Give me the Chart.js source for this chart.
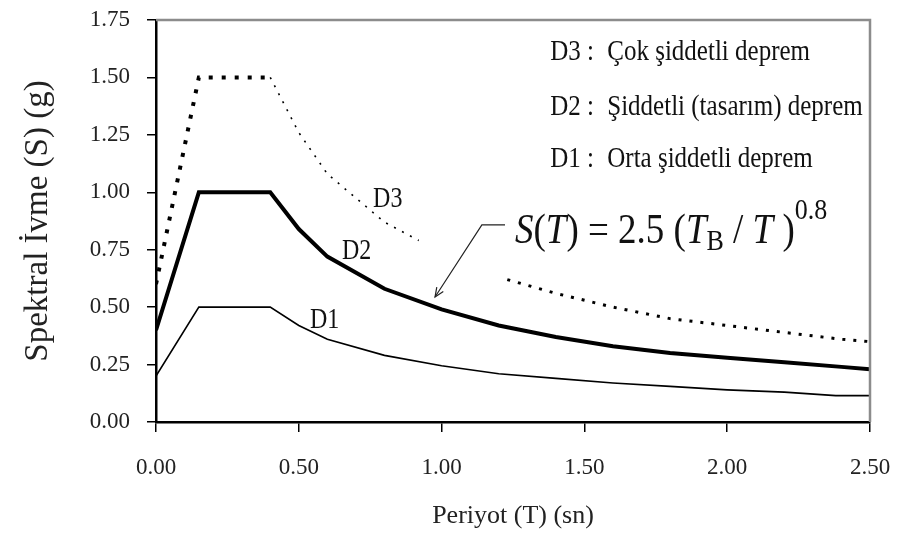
<!DOCTYPE html>
<html>
<head>
<meta charset="utf-8">
<script src="https://cdn.jsdelivr.net/npm/chart.js@4/dist/chart.umd.min.js"></script>
<style>
  html, body { margin: 0; padding: 0; background: #fff; }
  #c { display: block; }
</style>
</head>
<body>
<canvas id="c" width="901" height="540"></canvas>
<script>
// ---- data ----
const periodsD3 = [0.00, 0.15, 0.40, 0.50, 0.60, 0.80, 0.92, null, 1.23, 1.40, 1.60, 1.80, 2.00, 2.20, 2.40, 2.50];
const valuesD3  = [0.60, 1.50, 1.50, 1.26, 1.08, 0.87, 0.79, null, 0.62, 0.56, 0.50, 0.45, 0.42, 0.39, 0.36, 0.35];

const periodsD2 = [0.00, 0.15, 0.40, 0.50, 0.60, 0.80, 1.00, 1.20, 1.40, 1.60, 1.80, 2.00, 2.20, 2.40, 2.50];
const valuesD2  = [0.40, 1.00, 1.00, 0.84, 0.72, 0.58, 0.49, 0.42, 0.37, 0.33, 0.30, 0.28, 0.26, 0.24, 0.23];

const periodsD1 = [0.00, 0.15, 0.40, 0.50, 0.60, 0.80, 1.00, 1.20, 1.40, 1.60, 1.80, 2.00, 2.20, 2.38, 2.50];
const valuesD1  = [0.20, 0.50, 0.50, 0.42, 0.36, 0.29, 0.245, 0.21, 0.19, 0.17, 0.155, 0.14, 0.13, 0.115, 0.115];

const xTicks = [0.00, 0.50, 1.00, 1.50, 2.00, 2.50];
const yTicks = [0.00, 0.25, 0.50, 0.75, 1.00, 1.25, 1.50, 1.75];

const legendLines = [
  ['D3 :', 'Çok şiddetli deprem'],
  ['D2 :', 'Şiddetli (tasarım) deprem'],
  ['D1 :', 'Orta şiddetli deprem']
];
const xTitle = 'Periyot (T) (sn)';
const yTitle = 'Spektral İvme (S) (g)';

// ---- build points ----
function pts(ts, vs) {
  return ts.map((t, i) => (t === null ? { x: null, y: null } : { x: t, y: vs[i] }));
}

const SERIF = '"Liberation Serif", "Times New Roman", serif';

// text drawn a little taller than wide, like the reference
function tallText(ctx, s, x, y, sy) {
  ctx.save();
  ctx.translate(x, y);
  ctx.scale(1, sy);
  ctx.fillText(s, 0, 0);
  ctx.restore();
}

const annotPlugin = {
  id: 'annot',
  afterDatasetsDraw(chart) {
    const { ctx, chartArea: a, scales: { x, y } } = chart;
    const px = v => x.getPixelForValue(v);
    const py = v => y.getPixelForValue(v);
    ctx.save();
    // top & right frame (grey)
    ctx.strokeStyle = '#8c8c8c';
    ctx.lineWidth = 2.5;
    ctx.beginPath();
    ctx.moveTo(a.left, a.top);
    ctx.lineTo(a.right, a.top);
    ctx.lineTo(a.right, a.bottom);
    ctx.stroke();

    ctx.fillStyle = '#111';
    ctx.textBaseline = 'alphabetic';
    ctx.textAlign = 'left';

    // curve labels
    ctx.font = '24px ' + SERIF;
    [['D3', 0.76, 0.935], ['D2', 0.651, 0.71], ['D1', 0.539, 0.409]].forEach(([t, tx, sy]) => {
      tallText(ctx, t, px(tx), py(sy), 1.2);
    });

    // legend text
    ctx.font = '25px ' + SERIF;
    const rows = [1.576, 1.336, 1.110];
    legendLines.forEach((l, i) => {
      tallText(ctx, l[0], px(1.38), py(rows[i]), 1.2);
      tallText(ctx, l[1], px(1.58), py(rows[i]), 1.2);
    });

    // formula
    let cx = px(1.257);
    const base = py(0.779);
    const big = 37, small = 26;
    const pieces = [
      ['S', 'italic', big, 0],
      ['(', '', big, 0],
      ['T', 'italic', big, 0],
      [') = 2.5 (', '', big, 0],
      ['T', 'italic', big, 0],
      ['B', '', small, 7],
      [' / ', '', big, 0],
      ['T', 'italic', big, 0],
      [' )', '', big, 0],
      ['0.8', '', small, -24]
    ];
    pieces.forEach(([s, st, sz, dy]) => {
      ctx.font = (st ? st + ' ' : '') + sz + 'px ' + SERIF;
      tallText(ctx, s, cx, base + dy, 1.12);
      cx += ctx.measureText(s).width;
    });

    // arrow
    const sx = px(1.222), sy = py(0.858);
    const mx = px(1.141);
    const tx = px(0.977), ty = py(0.544);
    ctx.strokeStyle = '#222';
    ctx.lineWidth = 1.2;
    ctx.beginPath();
    ctx.moveTo(sx, sy);
    ctx.lineTo(mx, sy);
    ctx.lineTo(tx, ty);
    ctx.stroke();
    const ang = Math.atan2(ty - sy, tx - mx);
    const hl = 10;
    ctx.beginPath();
    ctx.moveTo(tx - hl * Math.cos(ang - 0.4), ty - hl * Math.sin(ang - 0.4));
    ctx.lineTo(tx, ty);
    ctx.lineTo(tx - hl * Math.cos(ang + 0.4), ty - hl * Math.sin(ang + 0.4));
    ctx.stroke();
    ctx.restore();
  }
};

new Chart(document.getElementById('c'), {
  type: 'line',
  data: {
    datasets: [
      {
        label: 'D3',
        data: pts(periodsD3, valuesD3),
        borderColor: '#000',
        borderWidth: 3.5,
        borderDash: [4, 9],
        borderCapStyle: 'butt',
        spanGaps: false,
        pointRadius: 0,
        tension: 0,
        segment: {
          borderWidth: c => (c.p0.parsed.x >= 0.39 && c.p0.parsed.x < 1.0 ? 1.6 : (c.p0.parsed.x >= 1.0 ? 3 : 4)),
          borderDash: c => (c.p0.parsed.x >= 0.39 && c.p0.parsed.x < 1.0 ? [2, 7] : (c.p0.parsed.x >= 1.0 ? [3, 8] : [4, 9]))
        }
      },
      {
        label: 'D2',
        data: pts(periodsD2, valuesD2),
        borderColor: '#000',
        borderWidth: 4,
        pointRadius: 0,
        tension: 0
      },
      {
        label: 'D1',
        data: pts(periodsD1, valuesD1),
        borderColor: '#000',
        borderWidth: 1.6,
        pointRadius: 0,
        tension: 0
      }
    ]
  },
  options: {
    responsive: false,
    animation: false,
    parsing: true,
    layout: { padding: { left: 0, top: 20, right: 31, bottom: 0 } },
    plugins: { legend: { display: false }, tooltip: { enabled: false } },
    scales: {
      x: {
        type: 'linear',
        min: 0, max: 2.5,
        afterBuildTicks: s => { s.ticks = xTicks.map(v => ({ value: v })); },
        afterFit: s => { s.height = 118; s.paddingLeft = 0; s.paddingRight = 0; s.paddingTop = 0; s.paddingBottom = 0; },
        grid: { display: true, drawOnChartArea: false, drawTicks: true, tickLength: 10, tickColor: '#000', lineWidth: 1.5 },
        border: { display: true, color: '#000', width: 2.5 },
        ticks: { color: '#222', font: { family: SERIF, size: 23 }, padding: 22, maxRotation: 0, autoSkip: false,
                 callback: v => Number(v).toFixed(2) },
        title: { display: true, text: xTitle, color: '#222', font: { family: SERIF, size: 26 }, padding: { top: 0, bottom: 8 } }
      },
      y: {
        type: 'linear',
        min: 0, max: 1.75,
        afterBuildTicks: s => { s.ticks = yTicks.map(v => ({ value: v })); },
        afterFit: s => { s.width = 156; s.paddingLeft = 0; s.paddingRight = 0; s.paddingTop = 0; s.paddingBottom = 0; },
        grid: { display: true, drawOnChartArea: false, drawTicks: true, tickLength: 9, tickColor: '#000', lineWidth: 1.5 },
        border: { display: true, color: '#000', width: 2.5 },
        ticks: { color: '#222', font: { family: SERIF, size: 23 }, padding: 17, autoSkip: false,
                 callback: v => Number(v).toFixed(2) },
        title: { display: true, text: yTitle, color: '#222', font: { family: SERIF, size: 33 }, padding: { top: 19, bottom: 0 } }
      }
    }
  },
  plugins: [annotPlugin]
});
</script>
</body>
</html>
